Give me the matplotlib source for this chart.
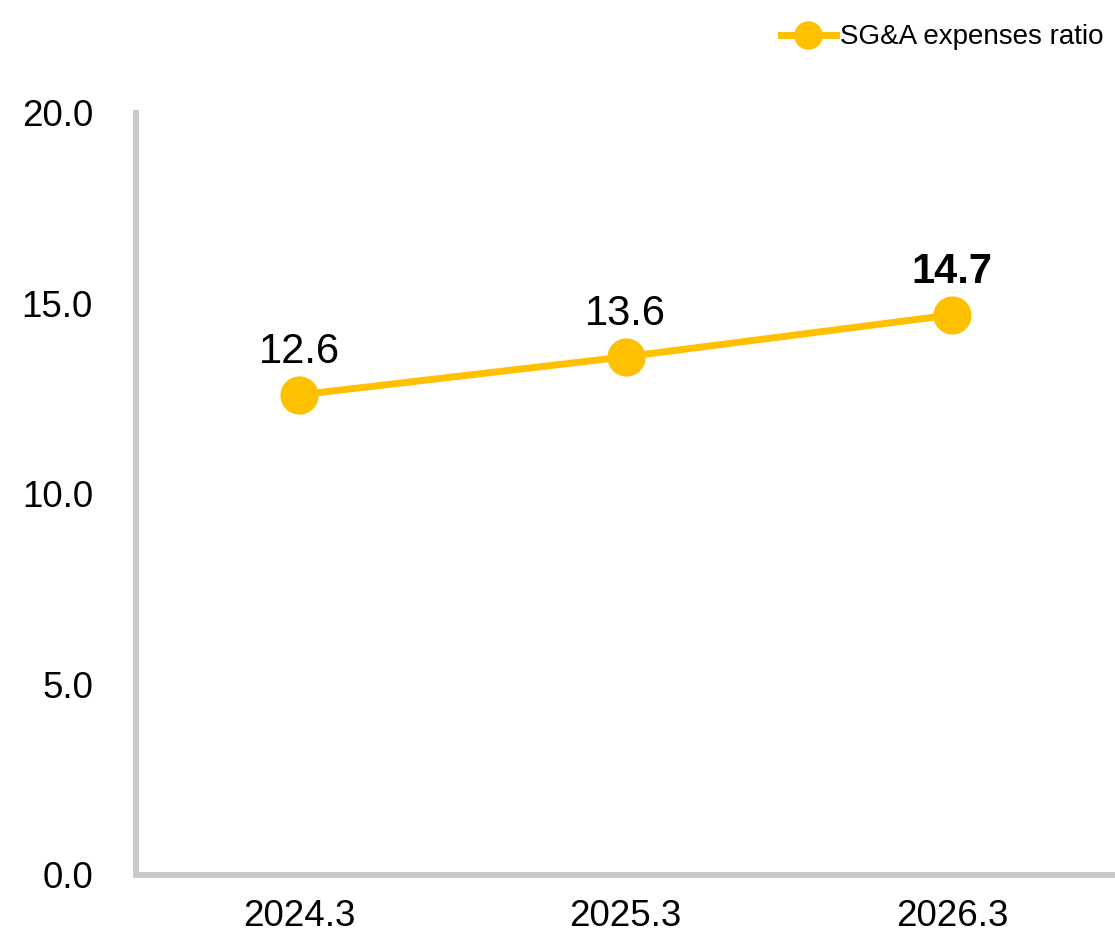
import matplotlib.pyplot as plt
from matplotlib.lines import Line2D

plt.rcParams['font.family'] = ['Liberation Sans', 'DejaVu Sans']

periods = ['2024.3', '2025.3', '2026.3']
sga_ratio = [12.6, 13.6, 14.7]
y_ticks = [0.0, 5.0, 10.0, 15.0, 20.0]

gold = '#FFC000'
grey = '#C9C9C9'

fig = plt.figure(figsize=(11.15, 9.35), dpi=100)
ax = fig.add_axes([0.122, 0.0642, 0.878, 0.815])

x = range(len(periods))
ax.plot(x, sga_ratio, color=gold, lw=5, marker='o', ms=26.5,
        markerfacecolor=gold, markeredgecolor=gold, zorder=3, clip_on=False)

# value labels, last one bold
for i, v in enumerate(sga_ratio):
    ax.annotate('{:.1f}'.format(v), (i, v), xytext=(0, 23), textcoords='offset points',
                ha='center', va='baseline', fontsize=30,
                fontweight='bold' if i == len(sga_ratio) - 1 else 'normal')

ax.set_xlim(-0.5, 2.5)
ax.set_ylim(0, 20)
ax.set_xticks(list(x))
ax.set_xticklabels(periods)
ax.set_yticks(y_ticks)
ax.set_yticklabels(['{:.1f}'.format(t) for t in y_ticks])
ax.tick_params(axis='both', length=0, labelsize=26.5)
ax.tick_params(axis='y', pad=31)
ax.tick_params(axis='x', pad=17)

for s in ['top', 'right']:
    ax.spines[s].set_visible(False)
for s in ['left', 'bottom']:
    ax.spines[s].set_color(grey)
    ax.spines[s].set_linewidth(4.3)

handle = Line2D([], [], color=gold, lw=5, marker='o', ms=19.5,
                markerfacecolor=gold, markeredgecolor=gold)
fig.legend(handles=[handle], labels=['SG&A expenses ratio'], loc='center right',
           bbox_to_anchor=(0.99, 0.96), frameon=False, fontsize=20,
           handlelength=2.0, handletextpad=0.15, borderaxespad=0, borderpad=0)

fig.savefig('out.png', dpi=100)
